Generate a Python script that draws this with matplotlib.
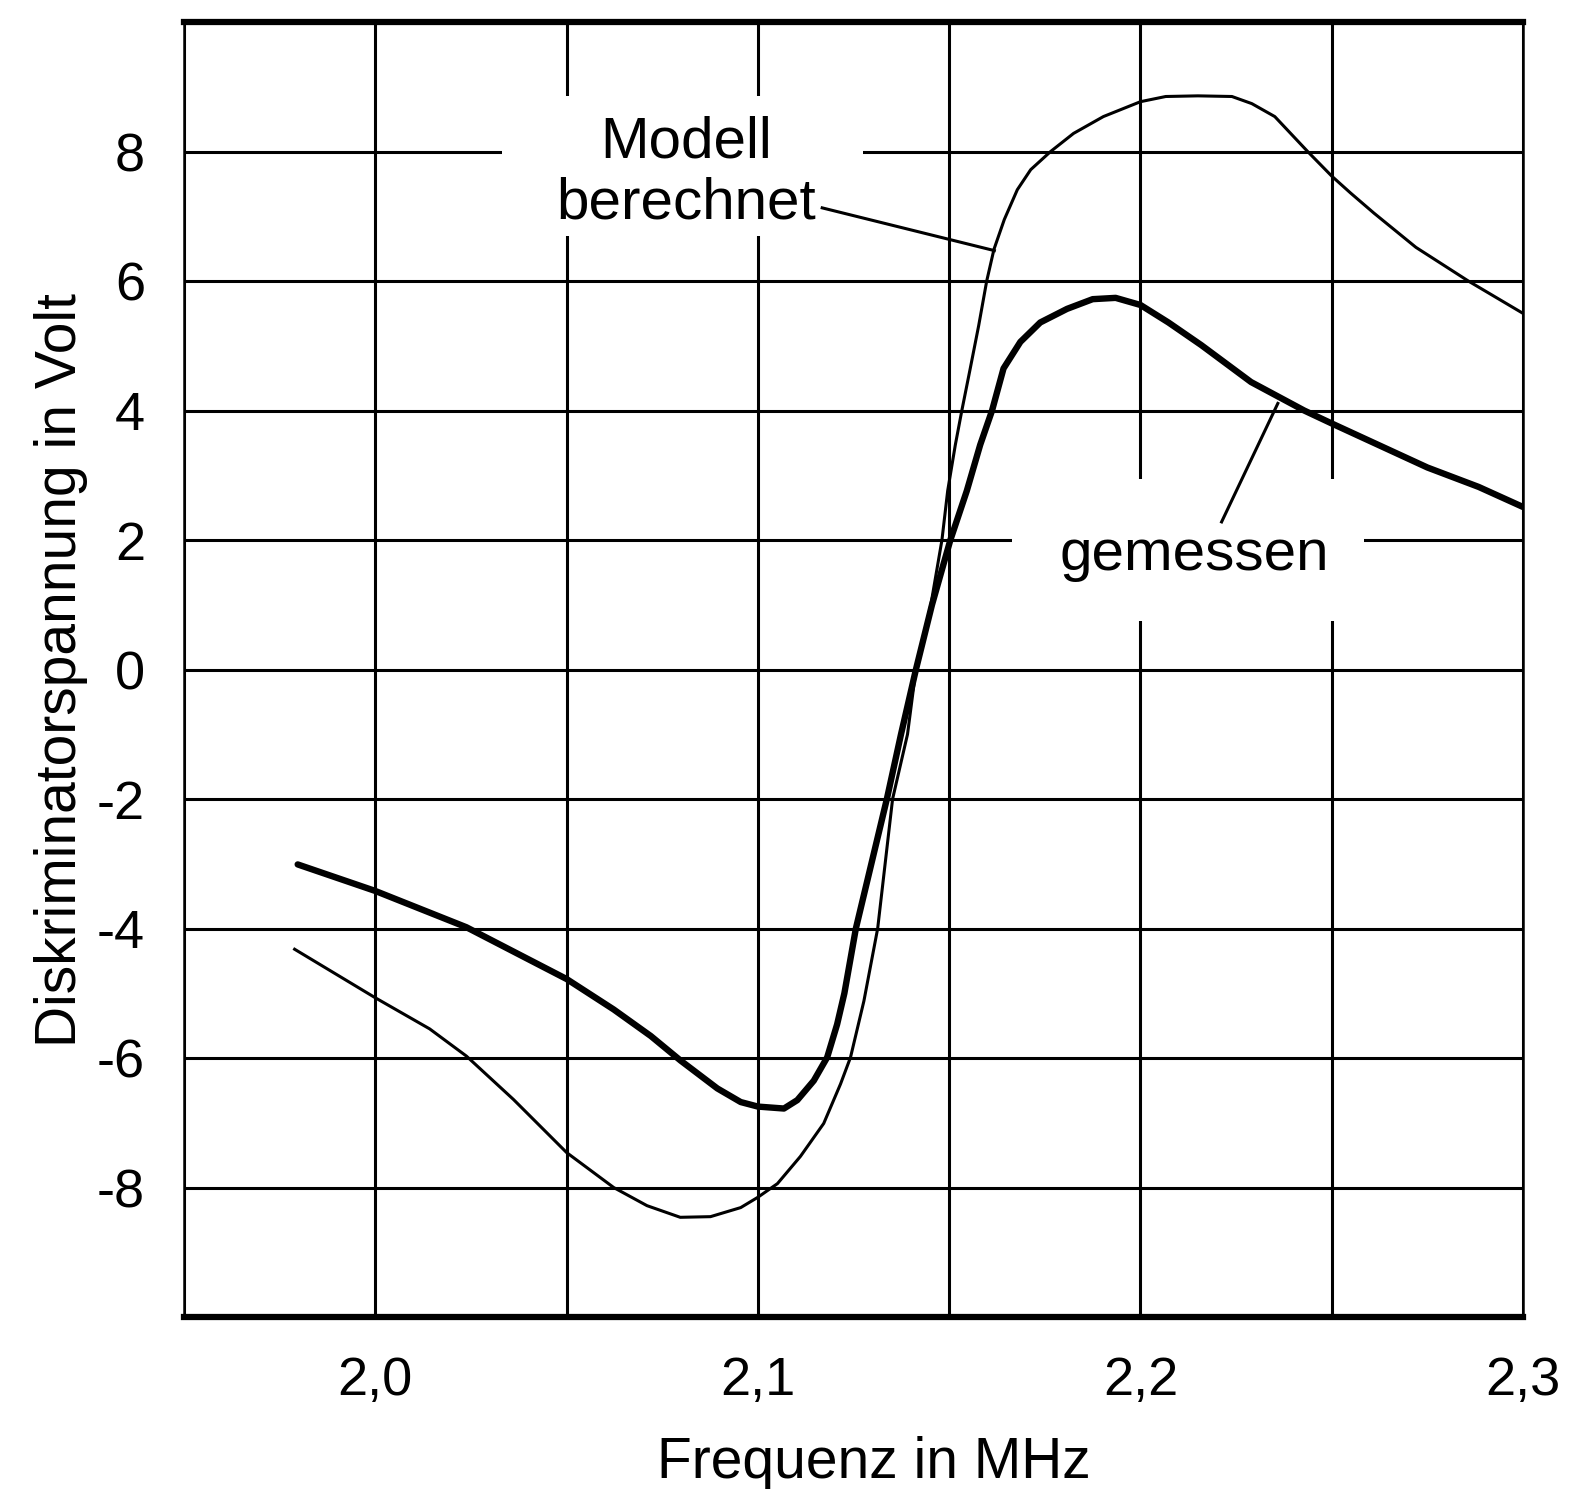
import matplotlib.pyplot as plt
from matplotlib.patches import Rectangle

plt.rcParams['font.family'] = ['Liberation Sans', 'DejaVu Sans']

# Modell (berechnet) - thin curve
x_modell = [1.9789, 2.000, 2.0142, 2.0238, 2.0361, 2.050, 2.0623, 2.071, 2.0797, 2.0876,
            2.0955, 2.100, 2.1051, 2.1111, 2.1172, 2.1216, 2.1242, 2.1277, 2.1313, 2.1352,
            2.1391, 2.1413, 2.1452, 2.1481, 2.1496, 2.1516, 2.1533, 2.1555, 2.1577, 2.1598,
            2.1617, 2.1644, 2.1678, 2.1713, 2.1765, 2.1825, 2.1903, 2.200, 2.2066, 2.215,
            2.2239, 2.2291, 2.2351, 2.2437, 2.250, 2.2549, 2.261, 2.272, 2.2857, 2.300]
y_modell = [-4.32, -5.07, -5.55, -5.97, -6.64, -7.46, -8.00, -8.28, -8.46, -8.45,
            -8.31, -8.15, -7.94, -7.52, -7.01, -6.40, -5.99, -5.12, -4.00, -2.00,
            -1.00, 0.00, 1.00, 2.00, 2.76, 3.47, 4.00, 4.65, 5.31, 6.00,
            6.49, 6.95, 7.41, 7.72, 8.00, 8.28, 8.54, 8.77, 8.85, 8.86,
            8.85, 8.74, 8.54, 8.00, 7.62, 7.36, 7.05, 6.52, 6.00, 5.50]

# gemessen - thick curve
x_gemessen = [1.9797, 2.000, 2.0238, 2.050, 2.0623, 2.072, 2.0798, 2.0894, 2.0955, 2.100,
              2.1068, 2.1103, 2.1146, 2.1181, 2.1207, 2.1226, 2.1256, 2.1337, 2.1374, 2.1413,
              2.1455, 2.1503, 2.1546, 2.1581, 2.1612, 2.1642, 2.1686, 2.1738, 2.1808, 2.1875,
              2.1935, 2.200, 2.2073, 2.2159, 2.2289, 2.2428, 2.250, 2.275, 2.2884, 2.300]
y_gemessen = [-3.01, -3.42, -3.98, -4.78, -5.25, -5.66, -6.04, -6.47, -6.68, -6.75,
              -6.78, -6.65, -6.35, -5.99, -5.48, -5.00, -4.00, -2.00, -1.00, 0.00,
              1.00, 2.00, 2.76, 3.47, 4.00, 4.65, 5.06, 5.36, 5.57, 5.72,
              5.74, 5.63, 5.36, 5.01, 4.44, 4.00, 3.80, 3.12, 2.82, 2.51]

x_ticks = [1.95, 2.0, 2.05, 2.1, 2.15, 2.2, 2.25, 2.3]
x_ticklabels = ['', '2,0', '', '2,1', '', '2,2', '', '2,3']
y_ticks = [-10, -8, -6, -4, -2, 0, 2, 4, 6, 8, 10]
y_ticklabels = ['', '-8', '-6', '-4', '-2', '0', '2', '4', '6', '8', '']

fig = plt.figure(figsize=(15.95, 14.89), dpi=100)
ax = fig.add_axes([0.1154, 0.1155, 0.8395, 0.8697])

ax.set_xlim(1.95, 2.3)
ax.set_ylim(-10, 10)
ax.set_xticks(x_ticks)
ax.set_xticklabels(x_ticklabels)
ax.set_yticks(y_ticks)
ax.set_yticklabels(y_ticklabels)
ax.tick_params(length=0, labelsize=39)
ax.tick_params(axis='x', pad=28)
ax.tick_params(axis='y', pad=28)

ax.set_axisbelow(True)
ax.grid(True, color='black', linewidth=2.2)
for s in ['top', 'bottom']:
    ax.spines[s].set_linewidth(4.5)
for s in ['left', 'right']:
    ax.spines[s].set_linewidth(1.8)

# white boxes behind the labels
ax.add_patch(Rectangle((2.033, 6.69), 0.0945, 2.16, facecolor='white', edgecolor='none', zorder=1))
ax.add_patch(Rectangle((2.1663, 0.75), 0.092, 2.2, facecolor='white', edgecolor='none', zorder=1))

ax.plot(x_modell, y_modell, color='black', linewidth=2.2, zorder=3)
ax.plot(x_gemessen, y_gemessen, color='black', linewidth=4.6,
        solid_capstyle='round', solid_joinstyle='round', zorder=3)

ax.text(2.0813, 7.91, 'Modell', fontsize=42, ha='center', va='baseline', zorder=4)
ax.text(2.0813, 6.96, 'berechnet', fontsize=42, ha='center', va='baseline', zorder=4)
ax.plot([2.1168, 2.1618], [7.13, 6.47], color='black', linewidth=2.2, zorder=3)

ax.text(2.214, 1.54, 'gemessen', fontsize=42, ha='center', va='baseline', zorder=4)
ax.plot([2.2212, 2.2359], [2.28, 4.11], color='black', linewidth=2.2, zorder=3)

ax.set_xlabel('Frequenz in MHz', fontsize=41)
ax.set_ylabel('Diskriminatorspannung in Volt', fontsize=41)
ax.xaxis.set_label_coords(0.515, -0.092)
ax.yaxis.set_label_coords(-0.072, 0.5)

fig.savefig('out.png', dpi=100)
